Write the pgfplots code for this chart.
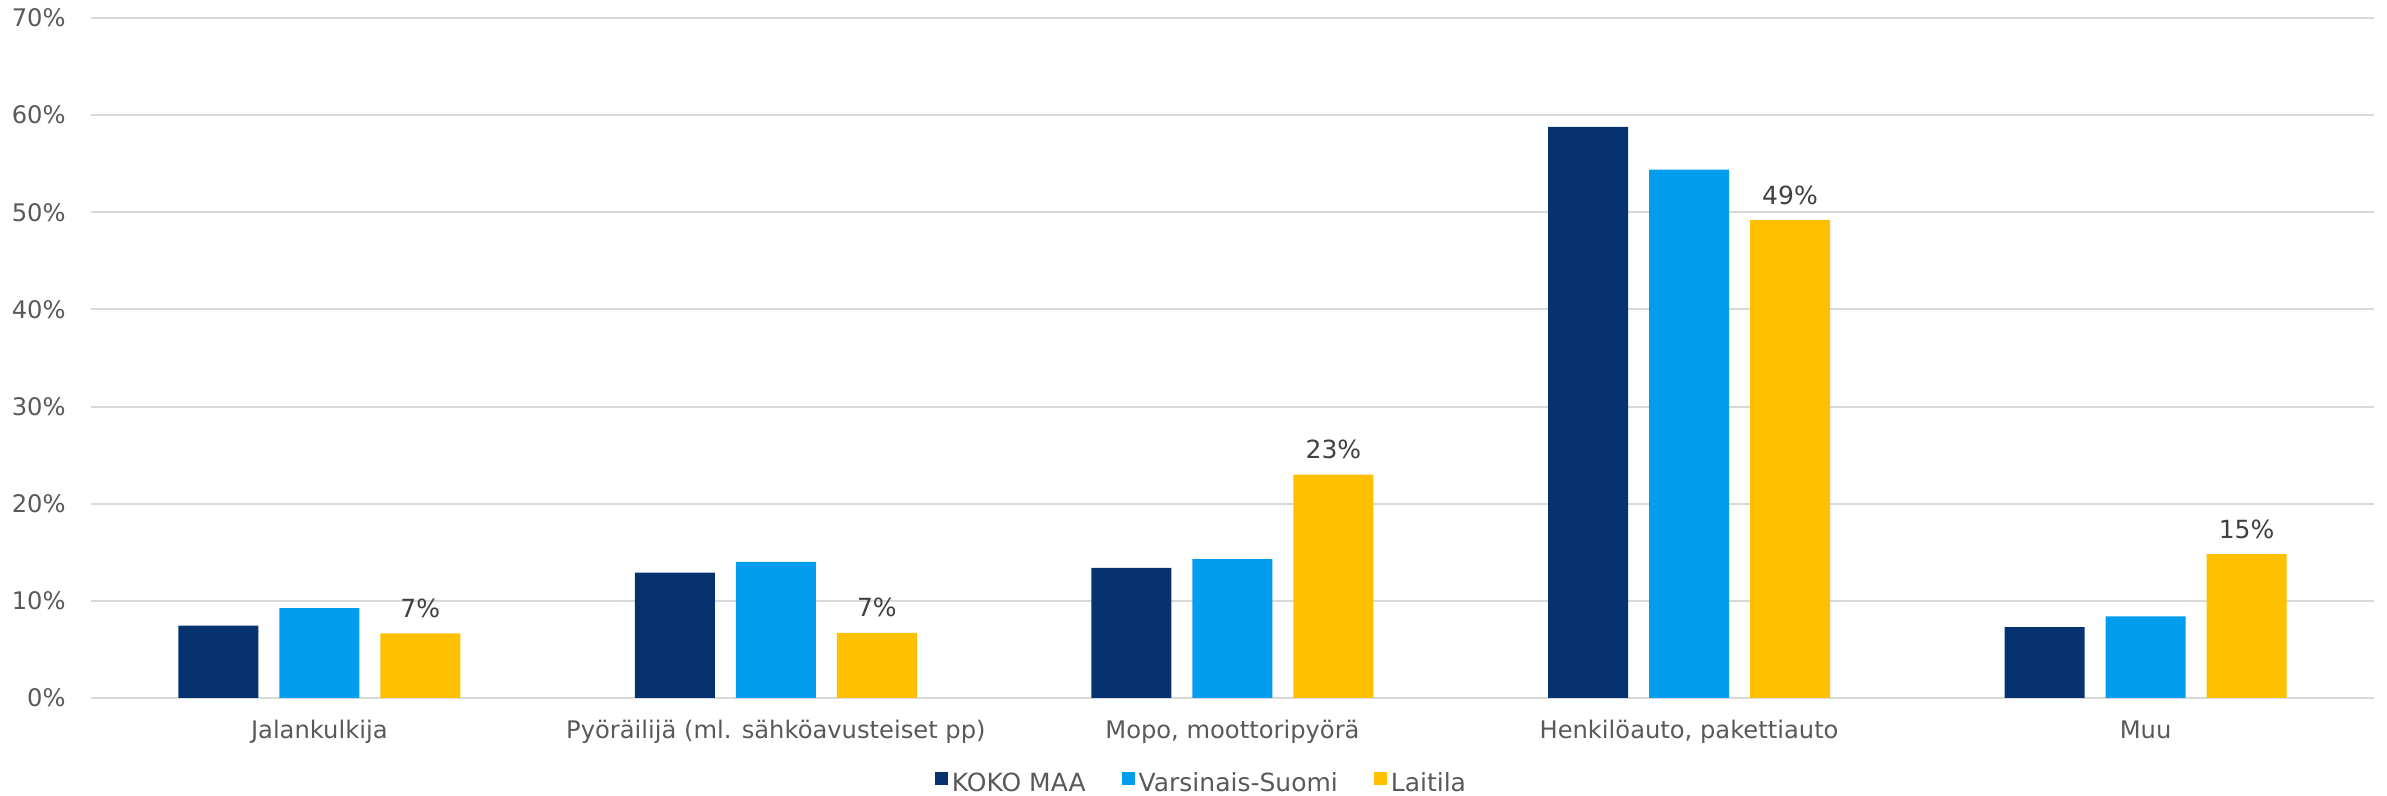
\documentclass[border=0pt]{standalone}
\usepackage{fontspec}
\setmainfont{DejaVu Sans}
\usepackage{pgfplots}
\pgfplotsset{compat=1.18}
\usetikzlibrary{calc}
\definecolor{Koko}{HTML}{063370}
\definecolor{Varsi}{HTML}{039DEE}
\definecolor{Laiti}{HTML}{FFC000}
\definecolor{GridGrey}{HTML}{D9D9D9}
\definecolor{TickGrey}{HTML}{595959}
\definecolor{LabelGrey}{HTML}{404040}

\begin{document}
\begin{tikzpicture}
    \begin{axis}[
        scale only axis,
        width=1141.5pt, height=340pt,
        xmin=-0.5, xmax=4.5,
        ymin=0, ymax=70,
        ytick={0,10,...,70},
        xtick={0,1,2,3,4},
        xticklabels={Jalankulkija, {Pyöräilijä (ml. sähköavusteiset pp)},
                     {Mopo, moottoripyörä}, {Henkilöauto, pakettiauto}, Muu},
        yticklabel={\pgfmathprintnumber{\tick}\%},
        /pgf/number format/assume math mode=true,
        major tick length=0pt,
        axis line style={draw=none},
        ymajorgrids,
        grid style={GridGrey, line width=1pt},
        ticklabel style={font=\fontsize{12.1}{14}\selectfont, text=TickGrey},
        yticklabel style={anchor=east, inner sep=0pt, xshift=-12.5pt},
        xticklabel style={anchor=base, inner sep=0pt, yshift=-20.5pt},
        legend columns=3,
        legend style={at={(0.5,0)}, anchor=center, xshift=-15pt, yshift=-43pt,
                      draw=none, fill=none, inner sep=0pt,
                      font=\fontsize{12.5}{14}\selectfont, text=TickGrey,
                      /tikz/every even column/.append style={column sep=16pt}},
        legend image code/.code={\fill[#1] (0pt,-0.5pt) rectangle (6.5pt,6pt);},
        every node near coord/.append style={anchor=base, inner sep=0pt, yshift=8pt,
                      font=\fontsize{12.5}{14}\selectfont, text=LabelGrey},
    ]
    \coordinate (O) at (rel axis cs:0,0);

    % KOKO MAA
    \addplot[ybar, bar width=40pt, bar shift=-50.5pt, fill=Koko, draw=none]
        coordinates {(0,7.45) (1,12.9) (2,13.4) (3,58.8) (4,7.3)};
    \addlegendentry{KOKO MAA}

    % Varsinais-Suomi
    \addplot[ybar, bar width=40pt, bar shift=0pt, fill=Varsi, draw=none]
        coordinates {(0,9.24) (1,14.0) (2,14.3) (3,54.4) (4,8.4)};
    \addlegendentry{Varsinais-Suomi}

    % Laitila, only these have value labels
    \addplot[ybar, bar width=40pt, bar shift=50.5pt, fill=Laiti, draw=none,
             nodes near coords={\pgfmathprintnumber[fixed,precision=0]{\pgfplotspointmeta}\%},
             every node near coord/.append style={xshift=50.5pt}]
        coordinates {(0,6.66) (1,6.7) (2,23.0) (3,49.2) (4,14.8)};
    \addlegendentry{Laitila}
    \end{axis}
    \pgfresetboundingbox
    \path ($(O)+(-45.5pt,-49pt)$) rectangle ($(O)+(1148pt,349pt)$);
\end{tikzpicture}
\end{document}
